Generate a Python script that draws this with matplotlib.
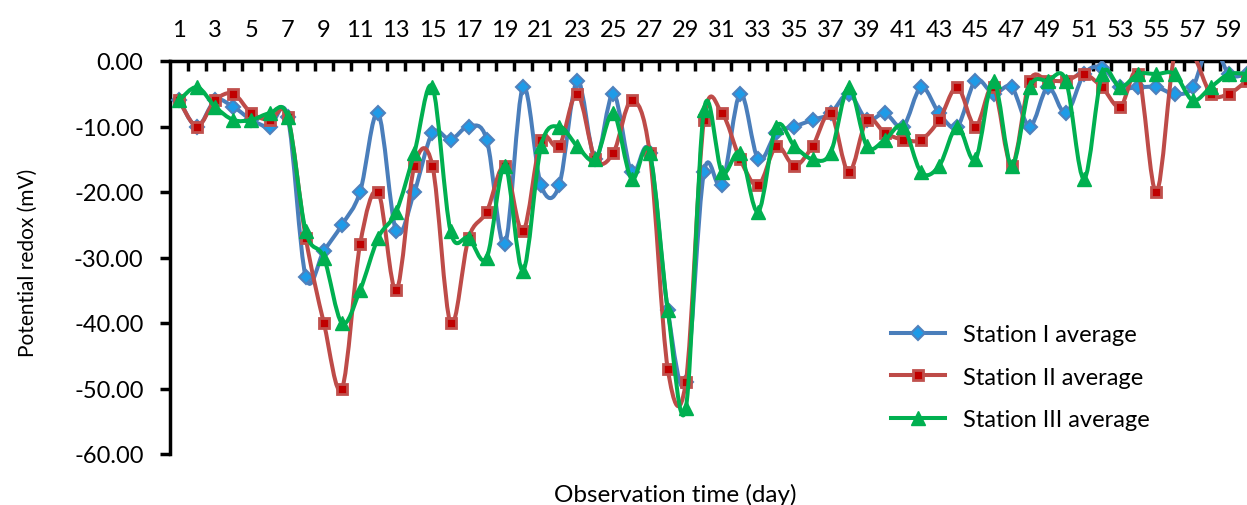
import numpy as np
import matplotlib
matplotlib.use("Agg")
import matplotlib.pyplot as plt
from matplotlib.path import Path
from matplotlib.patches import PathPatch
from matplotlib.lines import Line2D
from matplotlib.ticker import FixedLocator, FuncFormatter

plt.rcParams['font.family'] = ['Lato', 'DejaVu Sans']
plt.rcParams['axes.unicode_minus'] = False

#DATA
days = list(range(1, 61))
station1 = [-6, -10, -6, -7, -9, -10, -8.5, -33, -29, -25,
            -20, -8, -26, -20, -11, -12, -10, -12, -28, -4,
            -19, -19, -3, -15, -5, -17, -14, -38, -49, -17,
            -19, -5, -15, -11, -10, -9, -8, -5, -9, -8,
            -10, -4, -8, -10, -3, -5, -4, -10, -4, -8,
            -2, -1, -4, -4, -4, -5, -4, 3, -2, -2]
station2 = [-6, -10, -6, -5, -8, -9, -8.5, -27, -40, -50,
            -28, -20, -35, -16, -16, -40, -27, -23, -16, -26,
            -12, -13, -5, -15, -14, -6, -14, -47, -49, -9,
            -8, -15, -19, -13, -16, -13, -8, -17, -9, -11,
            -12, -12, -9, -4, -10, -4, -16, -3, -3, -3,
            -2, -4, -7, -2, -20, 1, 1, -5, -5, -3]
station3 = [-6, -4, -7, -9, -9, -8, -8.5, -26, -30, -40,
            -35, -27, -23, -14, -4, -26, -27, -30, -16, -32,
            -13, -10, -13, -15, -8, -18, -14, -38, -53, -7.5,
            -17, -14, -23, -10, -13, -15, -14, -4, -13, -12,
            -10, -17, -16, -10, -15, -3, -16, -4, -3, -3,
            -18, -2, -4, -2, -2, -2, -6, -4, -2, -2]
labels = ["Station I average", "Station II average", "Station III average"]


def smooth_path(x, y):
    # smoothed line (bezier through the points, like the spreadsheet one)
    x = np.asarray(x, float)
    y = np.asarray(y, float)
    n = len(x)
    verts = [(x[0], y[0])]
    codes = [Path.MOVETO]
    for i in range(n - 1):
        a = i - 1 if i > 0 else i
        b = i + 2 if i + 2 < n else i + 1
        c1 = (x[i] + (x[i + 1] - x[a]) / 6, y[i] + (y[i + 1] - y[a]) / 6)
        c2 = (x[i + 1] - (x[b] - x[i]) / 6, y[i + 1] - (y[b] - y[i]) / 6)
        verts += [c1, c2, (x[i + 1], y[i + 1])]
        codes += [Path.CURVE4] * 3
    return Path(verts, codes)


#PLOT
W, H = 1247, 506
fig = plt.figure(figsize=(W / 100, H / 100), dpi=100)
ax = fig.add_axes([170 / W, 1 - 455 / H, 1086 / W, 393 / H])

styles = [
    dict(color="#4A7EBB", marker="D", ms=7, mfc="#1E9BE8", mec="#4F81BD", mew=1.5),
    dict(color="#BE4B48", marker="s", ms=7.5, mfc="#C00000", mec="#C0504D", mew=2),
    dict(color="#00B050", marker="^", ms=10, mfc="#00B050", mec="#00B050", mew=1),
]
handles = []
for k, (vals, st) in enumerate(zip([station1, station2, station3], styles)):
    z = 3 + 2 * k
    patch = PathPatch(smooth_path(days, vals), fill=False, edgecolor=st["color"],
                      lw=2.9, zorder=z, capstyle="round", joinstyle="round")
    ax.add_patch(patch)
    ax.plot(days, vals, linestyle="none", marker=st["marker"], ms=st["ms"],
            mfc=st["mfc"], mec=st["mec"], mew=st["mew"], zorder=z + 1)
    handles.append(Line2D([], [], color=st["color"], lw=2.9, marker=st["marker"],
                          ms=st["ms"], mfc=st["mfc"], mec=st["mec"], mew=st["mew"]))

ax.set_xlim(0.5, 60.5)
ax.set_ylim(-60, 0)

for s in ["right", "bottom"]:
    ax.spines[s].set_visible(False)
for s in ["top", "left"]:
    ax.spines[s].set_linewidth(2.5)
    ax.spines[s].set_color("black")

ax.xaxis.tick_top()
ax.set_xticks(days[::2])
ax.set_xticklabels([str(d) for d in days[::2]])
ax.xaxis.set_minor_locator(FixedLocator(np.arange(1.5, 60.5, 1)))
ax.tick_params(axis="x", which="major", length=0, pad=15, labelsize=17,
               top=True, bottom=False, labeltop=True, labelbottom=False)
ax.tick_params(axis="x", which="minor", direction="in", length=7, width=2.5,
               top=True, bottom=False)

ax.set_yticks(range(-60, 1, 10))
ax.yaxis.set_major_formatter(FuncFormatter(lambda v, p: f"{v:.2f}"))
ax.tick_params(axis="y", direction="out", length=7, width=2.5, pad=12, labelsize=17)

fig.text(28 / W, 1 - 263 / H, "Potential redox (mV)", rotation=90,
         ha="center", va="center", fontsize=15)
fig.text(675 / W, 1 - 484 / H, "Observation time (day)", ha="center", va="top",
         fontsize=17.5)

ax.legend(handles, labels, loc="upper left", bbox_to_anchor=(891 / W, 1 - 325 / H),
          bbox_transform=fig.transFigure, frameon=False, fontsize=17,
          handlelength=2.3, handletextpad=0.75, labelspacing=0.92,
          borderpad=0, borderaxespad=0)

fig.savefig("out.png", dpi=100)
